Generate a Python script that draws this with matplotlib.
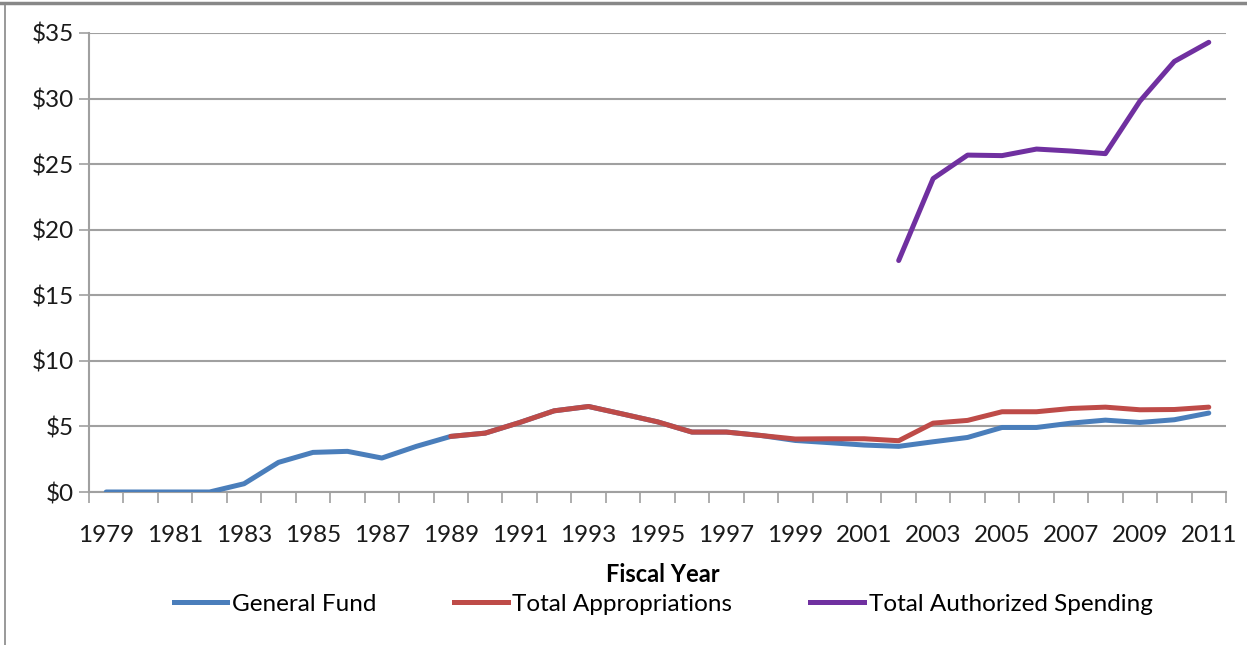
import matplotlib
matplotlib.use("Agg")
import matplotlib.pyplot as plt
from matplotlib.lines import Line2D

plt.rcParams['font.family'] = ['Lato', 'DejaVu Sans']

years = list(range(1979, 2012))
general_fund = [0, 0, 0, 0, 0.63, 2.26, 3.02, 3.1, 2.59, 3.48, 4.24,
                4.49, 5.3, 6.19, 6.52, 5.94, 5.35, 4.57, 4.57, 4.31, 3.93,
                3.76, 3.58, 3.48, 3.83, 4.16, 4.92, 4.92, 5.25, 5.48, 5.30,
                5.51, 6.02]
total_approp_years = list(range(1989, 2012))
total_approp = [4.24, 4.49, 5.3, 6.19, 6.52, 5.94, 5.35, 4.57, 4.57, 4.31,
                4.04, 4.06, 4.06, 3.91, 5.25, 5.46, 6.12, 6.12, 6.37, 6.47,
                6.27, 6.29, 6.47]
total_auth_years = list(range(2002, 2012))
total_auth = [17.65, 23.9, 25.69, 25.65, 26.15, 26.0, 25.8, 29.8, 32.83, 34.29]
y_ticks = [0, 5, 10, 15, 20, 25, 30, 35]
y_labels = ['$0', '$5', '$10', '$15', '$20', '$25', '$30', '$35']
x_labels = [str(y) for y in range(1979, 2012, 2)]

blue = '#4A7EBB'
red = '#BE4B48'
purple = '#7030A0'
grid_c = '#A0A0A0'

fig = plt.figure(figsize=(12.47, 6.45), dpi=100)
ax = fig.add_axes([89/1247, 1-492/645, (1226-89)/1247, (492-33)/645])

idx = {y: i for i, y in enumerate(years)}
ax.plot([idx[y] for y in years], general_fund, color=blue, lw=3.6,
        solid_capstyle='round', solid_joinstyle='round', zorder=3)
ax.plot([idx[y] for y in total_approp_years], total_approp, color=red, lw=3.6,
        solid_capstyle='round', solid_joinstyle='round', zorder=4)
ax.plot([idx[y] for y in total_auth_years], total_auth, color=purple, lw=3.6,
        solid_capstyle='round', solid_joinstyle='round', zorder=5)

ax.set_xlim(-0.5, len(years) - 0.5)
ax.set_ylim(0, 35)
ax.set_yticks(y_ticks)
ax.set_yticklabels(y_labels, fontsize=17.5, color='#1a1a1a')
ax.yaxis.grid(True, color=grid_c, lw=1.5)
ax.set_axisbelow(True)

# category boundary ticks and labels at every other category
ax.set_xticks([i - 0.5 for i in range(len(years) + 1)])
ax.set_xticklabels([])
ax.set_xticks([idx[int(l)] for l in x_labels], minor=True)
ax.set_xticklabels(x_labels, minor=True, fontsize=17.5, color='#1a1a1a')
ax.tick_params(axis='x', which='major', length=8, width=1.2, color=grid_c)
ax.tick_params(axis='x', which='minor', length=0, pad=24)
ax.tick_params(axis='y', length=7, width=1.2, color=grid_c, pad=4)

for s in ['top', 'right']:
    ax.spines[s].set_visible(False)
for s in ['left', 'bottom']:
    ax.spines[s].set_color(grid_c)
    ax.spines[s].set_linewidth(1.5)

fig.text(663/1247, 1-575/645, 'Fiscal Year', ha='center', va='center',
         fontsize=17, fontweight='bold')

handles = [Line2D([], [], color=blue, lw=3.6),
           Line2D([], [], color=red, lw=3.6),
           Line2D([], [], color=purple, lw=3.6)]
fig.legend(handles, ['General Fund', 'Total Appropriations', 'Total Authorized Spending'],
           loc='center', bbox_to_anchor=(663/1247, 1-604/645), ncol=3, frameon=False,
           fontsize=17.5, handlelength=2.2, handletextpad=0.2, columnspacing=3.2)

# outer frame lines (top and left)
fig.add_artist(Line2D([0, 1], [1-3/645, 1-3/645], color='#888888', lw=2.5,
                      transform=fig.transFigure))
fig.add_artist(Line2D([5/1247, 5/1247], [0, 1-3/645], color='#888888', lw=1.2,
                      transform=fig.transFigure))

fig.savefig('out.png', dpi=100)
